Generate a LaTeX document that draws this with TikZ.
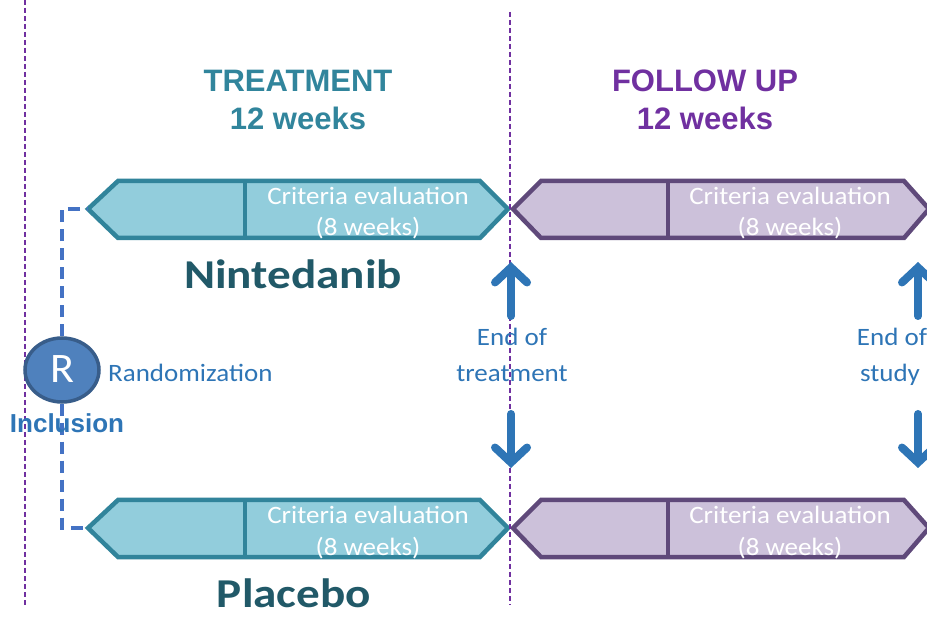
\documentclass[tikz,border=0pt]{standalone}
\usepackage{fontspec}
\setmainfont{Carlito}
\newfontfamily\arialf{Liberation Sans}
\usetikzlibrary{arrows.meta,shapes.geometric}
\definecolor{tealhead}{HTML}{31859C}
\definecolor{tealfill}{HTML}{92CDDC}
\definecolor{tealline}{HTML}{31849B}
\definecolor{purpfill}{HTML}{CCC1DA}
\definecolor{purpline}{HTML}{5F497A}
\definecolor{purphead}{HTML}{7030A0}
\definecolor{darkteal}{HTML}{215968}
\definecolor{bluetext}{HTML}{2E75B6}
\definecolor{rfill}{HTML}{4F81BD}
\definecolor{rline}{HTML}{385D8A}
\definecolor{dashblue}{HTML}{4472C4}
\tikzset{
  tealbox/.style={fill=tealfill, draw=tealline, line width=4.5pt, line join=miter},
  purpbox/.style={fill=purpfill, draw=purpline, line width=4.5pt, line join=miter},
  vdots/.style={draw=purphead, line width=2pt, dash pattern=on 5pt off 3pt},
  crit/.style={text=white, anchor=base, font=\fontsize{25}{30}\selectfont, xscale=1.08},
  head/.style={anchor=base, font=\arialf\bfseries\fontsize{31}{36}\selectfont},
  drug/.style={anchor=base, text=darkteal, font=\bfseries\fontsize{41}{48}\selectfont, xscale=1.15},
  endtxt/.style={anchor=base, text=bluetext, font=\fontsize{25}{30}\selectfont, xscale=1.08},
  bigarrow/.style={draw=bluetext, line width=8pt, line cap=round, -{Straight Barb[length=15pt,width=32pt,line cap=round]}},
  dashR/.style={draw=dashblue, line width=4.5pt, dash pattern=on 12pt off 7pt}
}
\begin{document}
\begin{tikzpicture}[x=1pt,y=-1pt]
\useasboundingbox (0,0) rectangle (927,617);
\fill[white] (0,0) rectangle (927,617);
% vertical dotted lines
\coordinate (vl1) at (25,0);
\coordinate (vl2) at (25,605);
\coordinate (vm1) at (510,12);
\coordinate (vm2) at (510,605);
\draw[vdots] (vl1) -- (vl2);
% headings
\node[head, text=tealhead] (h1) at (298,92) {TREATMENT};
\node[head, text=tealhead] (h2) at (298,130) {12 weeks};
\node[head, text=purphead] (h3) at (705,92) {FOLLOW UP};
\node[head, text=purphead] (h4) at (705,130) {12 weeks};
% boxes
\coordinate (t1L) at (88,209);
\coordinate (t2L) at (88,528);
\draw[tealbox] (t1L) -- (118,181) -- (480,181) -- (508,209) -- (480,238) -- (118,238) -- cycle;
\draw[tealline, line width=4.5pt] (245,181) -- (245,238);
\draw[tealbox] (t2L) -- (118,500) -- (480,500) -- (508,528) -- (480,557) -- (118,557) -- cycle;
\draw[tealline, line width=4.5pt] (245,500) -- (245,557);
\draw[purpbox] (513,209) -- (541,181) -- (904,181) -- (929,209) -- (904,238) -- (541,238) -- cycle;
\draw[purpline, line width=4.5pt] (668,181) -- (668,238);
\draw[purpbox] (513,528) -- (541,500) -- (904,500) -- (929,528) -- (904,557) -- (541,557) -- cycle;
\draw[purpline, line width=4.5pt] (668,500) -- (668,557);
% box texts
\node[crit] (c1) at (368,205) {Criteria evaluation};
\node[crit] (c1b) at (368,236) {(8 weeks)};
\node[crit] (c2) at (368,524) {Criteria evaluation};
\node[crit] (c2b) at (368,555) {(8 weeks)};
\node[crit] (c3) at (790,205) {Criteria evaluation};
\node[crit] (c3b) at (790,236) {(8 weeks)};
\node[crit] (c4) at (790,524) {Criteria evaluation};
\node[crit] (c4b) at (790,555) {(8 weeks)};
% drug names
\node[drug] (n1) at (293,289) {Nintedanib};
\node[drug] (p1) at (294,607) {Placebo};
% middle dotted line over boxes
\draw[vdots] (vm1) -- (vm2);
% randomization
\node[ellipse, fill=rfill, draw=rline, line width=3.5pt, minimum width=74pt, minimum height=64pt, inner sep=0pt] (R) at (62,370) {};
\node[text=white, font=\fontsize{42}{46}\selectfont, xscale=1.05, inner sep=0pt] (Rl) at (62,369) {R};
\node[anchor=base west, text=bluetext, font=\fontsize{25}{30}\selectfont, xscale=1.08, inner sep=0pt] (rand) at (108,382) {Randomization};
\draw[dashR] (R.north) |- (t1L);
\draw[dashR] (R.south) |- (t2L);
\node[anchor=base, text=bluetext, font=\arialf\bfseries\fontsize{26}{30}\selectfont] (incl) at (67,433) {Inclusion};
% end of treatment
\node[endtxt] (e1) at (512,346) {End of};
\node[endtxt] (e2) at (512,382) {treatment};
\coordinate (a1s) at (511,316);
\coordinate (a1e) at (511,262);
\coordinate (a2s) at (511,414);
\coordinate (a2e) at (511,468);
\draw[bigarrow] (a1s) -- (a1e);
\draw[bigarrow] (a2s) -- (a2e);
% end of study
\node[endtxt] (e3) at (892,346) {End of};
\node[endtxt] (e4) at (890,382) {study};
\coordinate (a3s) at (918,316);
\coordinate (a3e) at (918,262);
\coordinate (a4s) at (918,414);
\coordinate (a4e) at (918,468);
\draw[bigarrow] (a3s) -- (a3e);
\draw[bigarrow] (a4s) -- (a4e);
\end{tikzpicture}
\end{document}
